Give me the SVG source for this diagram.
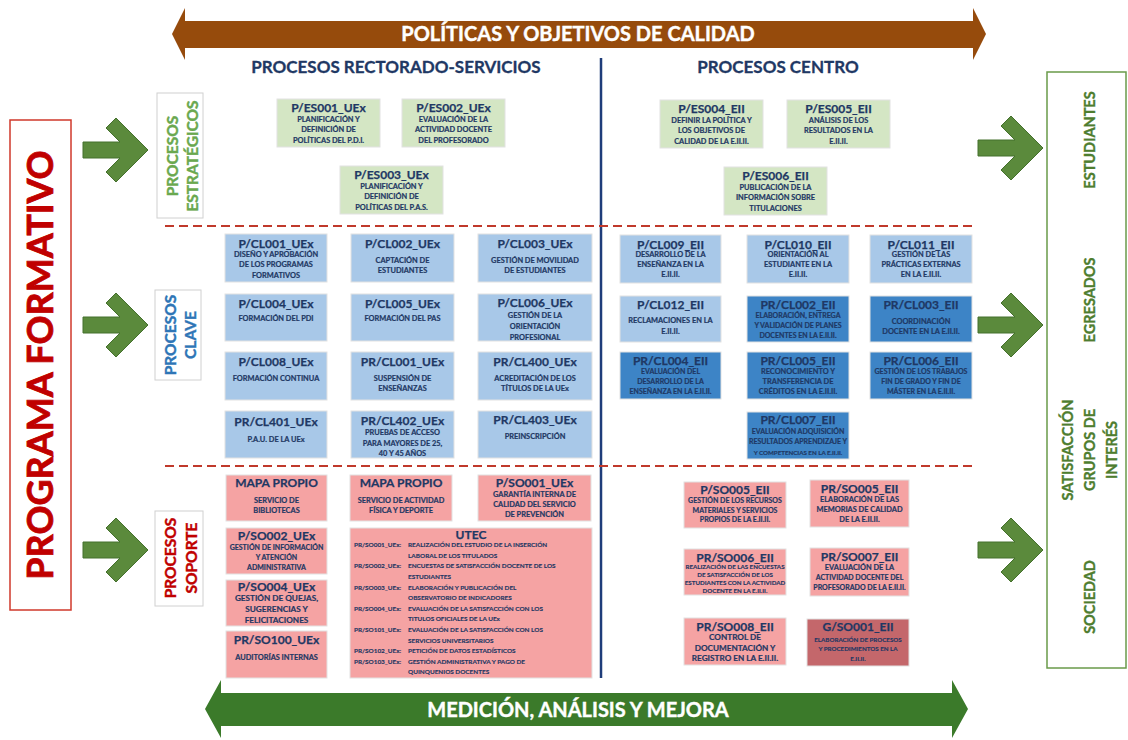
<svg xmlns="http://www.w3.org/2000/svg" width="1128" height="740" viewBox="0 0 1128 740">
<style>
text{font-family:Lato,"Open Sans","Liberation Sans",sans-serif;font-weight:700}
.t{font-size:12px;fill:#1f3864;stroke:#1f3864;stroke-width:0.25;text-anchor:middle}
.d{font-size:7.4px;fill:#1f3864;stroke:#1f3864;stroke-width:0.2;text-anchor:middle}
.d7{font-size:7px;fill:#1f3864;stroke:#1f3864;stroke-width:0.2;text-anchor:middle}
.d8{font-size:8.2px;fill:#1f3864;stroke:#1f3864;stroke-width:0.2;text-anchor:middle}
.d6{font-size:6.2px;fill:#1f3864;stroke:#1f3864;stroke-width:0.15;text-anchor:middle}
.u{font-size:6.4px;fill:#1f3864;stroke:#1f3864;stroke-width:0.15}
.gr{fill:#d4e6c4;stroke:#e2e2e2;stroke-width:1}
.lb{fill:#a8c8e8;stroke:#e2e2e2;stroke-width:1}
.db{fill:#3d84c6;stroke:#e2e2e2;stroke-width:1}
.pk{fill:#f5a3a3;stroke:#e2e2e2;stroke-width:1}
.dp{fill:#c4676b;stroke:#e2e2e2;stroke-width:1}
.hd{font-size:17px;fill:#1f3864;stroke:#1f3864;stroke-width:0.3;text-anchor:middle}
.side{fill:#fff;stroke:#d0d0d0;stroke-width:1}
.sl{font-size:15.5px;text-anchor:middle;stroke-width:0.4}
.rl{font-size:14.5px;fill:#4e7d2f;stroke:#4e7d2f;stroke-width:0.35;text-anchor:middle}
.bn{font-size:20px;fill:#fff;stroke:#fff;stroke-width:0.4;text-anchor:middle}
.dash{stroke:#c0392b;stroke-width:2;stroke-dasharray:9 5;fill:none}
</style>
<defs>
<polygon id="garrow" points="0,-8 37,-8 23,-22 33,-32 65,0 33,32 23,22 37,8 0,8" fill="#5b8a3c" stroke="#44702c" stroke-width="1"/>
</defs>

<g id="banner-top">
<polygon points="172,34 185,8 185,21 973,21 973,8 986,34 973,60 973,48 185,48 185,60" fill="#964b0c"/>
<text class="bn" x="578" y="41">POLÍTICAS Y OBJETIVOS DE CALIDAD</text>
</g>
<g id="banner-bottom">
<polygon points="205,709 221,680 221,693 952,693 952,680 968,709 952,738 952,726 221,726 221,738" fill="#3b7a2a"/>
<text class="bn" x="578" y="717">MEDICIÓN, ANÁLISIS Y MEJORA</text>
</g>

<g id="headers">
<text class="hd" x="396" y="73">PROCESOS RECTORADO-SERVICIOS</text>
<text class="hd" x="778" y="73">PROCESOS CENTRO</text>
<line x1="601" y1="58" x2="601" y2="678" stroke="#1f3d7a" stroke-width="2.5"/>
<line class="dash" x1="165" y1="226" x2="975" y2="226"/>
<line class="dash" x1="165" y1="466" x2="975" y2="466"/>
</g>

<g id="programa-formativo">
<rect x="10" y="120" width="61" height="490" fill="#fff" stroke="#d0392b" stroke-width="1.5"/>
<text transform="translate(53,365) rotate(-90)" font-size="36" fill="#c00000" stroke="#c00000" stroke-width="0.8" text-anchor="middle">PROGRAMA FORMATIVO</text>
</g>

<g id="label-estrategicos">
<rect class="side" x="157" y="93" width="46" height="125"/>
<text class="sl" fill="#6aa84f" stroke="#6aa84f" transform="translate(177.5,156) rotate(-90)">PROCESOS</text>
<text class="sl" fill="#6aa84f" stroke="#6aa84f" transform="translate(197.5,156) rotate(-90)">ESTRATÉGICOS</text>
</g>
<g id="label-clave">
<rect class="side" x="155" y="290" width="46" height="90"/>
<text class="sl" fill="#2e75b6" stroke="#2e75b6" transform="translate(175.5,335) rotate(-90)">PROCESOS</text>
<text class="sl" fill="#2e75b6" stroke="#2e75b6" transform="translate(195.5,335) rotate(-90)">CLAVE</text>
</g>
<g id="label-soporte">
<rect class="side" x="155" y="511" width="48" height="95"/>
<text class="sl" fill="#c00000" stroke="#c00000" transform="translate(175.5,558) rotate(-90)">PROCESOS</text>
<text class="sl" fill="#c00000" stroke="#c00000" transform="translate(196.5,558) rotate(-90)">SOPORTE</text>
</g>

<g id="grupos-interes">
<rect x="1047" y="72" width="79" height="596" fill="#fff" stroke="#6a9a4a" stroke-width="1.5"/>
<text class="rl" transform="translate(1095,140) rotate(-90)">ESTUDIANTES</text>
<text class="rl" transform="translate(1095,300) rotate(-90)">EGRESADOS</text>
<text class="rl" transform="translate(1073,450) rotate(-90)">SATISFACCIÓN</text>
<text class="rl" transform="translate(1095,450) rotate(-90)">GRUPOS DE</text>
<text class="rl" transform="translate(1117,450) rotate(-90)">INTERÉS</text>
<text class="rl" transform="translate(1095,597) rotate(-90)">SOCIEDAD</text>
</g>

<g id="connectors">
<use href="#garrow" x="83" y="150"/>
<use href="#garrow" x="83" y="325"/>
<use href="#garrow" x="83" y="550"/>
<use href="#garrow" x="978" y="148"/>
<use href="#garrow" x="978" y="325"/>
<use href="#garrow" x="978" y="550"/>
</g>

<!-- Strategic -->
<g id="P_ES001_UEx"><rect class="gr" x="277" y="99" width="103" height="48"/>
<text class="t" x="328.5" y="112">P/ES001_UEx</text>
<text class="d" x="328.5" y="121.5">PLANIFICACIÓN Y</text><text class="d" x="328.5" y="132">DEFINICIÓN DE</text><text class="d" x="328.5" y="142.5">POLÍTICAS DEL P.D.I.</text></g>
<g id="P_ES002_UEx"><rect class="gr" x="402" y="99" width="103" height="48"/>
<text class="t" x="453.5" y="112">P/ES002_UEx</text>
<text class="d" x="453.5" y="121.5">EVALUACIÓN DE LA</text><text class="d" x="453.5" y="132">ACTIVIDAD DOCENTE</text><text class="d" x="453.5" y="142.5">DEL PROFESORADO</text></g>
<g id="P_ES003_UEx"><rect class="gr" x="340" y="166" width="103" height="48"/>
<text class="t" x="391.5" y="179">P/ES003_UEx</text>
<text class="d" x="391.5" y="188.5">PLANIFICACIÓN Y</text><text class="d" x="391.5" y="199">DEFINICIÓN DE</text><text class="d" x="391.5" y="209.5">POLÍTICAS DEL P.A.S.</text></g>
<g id="P_ES004_EII"><rect class="gr" x="660" y="100" width="103" height="48"/>
<text class="t" x="711.5" y="113">P/ES004_EII</text>
<text class="d" x="711.5" y="122.5">DEFINIR LA POLÍTICA Y</text><text class="d" x="711.5" y="133">LOS OBJETIVOS DE</text><text class="d" x="711.5" y="143.5">CALIDAD DE LA E.II.II.</text></g>
<g id="P_ES005_EII"><rect class="gr" x="787" y="100" width="103" height="48"/>
<text class="t" x="838.5" y="113">P/ES005_EII</text>
<text class="d" x="838.5" y="122.5">ANÁLISIS DE LOS</text><text class="d" x="838.5" y="133">RESULTADOS EN LA</text><text class="d" x="838.5" y="143.5">E.II.II.</text></g>
<g id="P_ES006_EII"><rect class="gr" x="724" y="167" width="103" height="48"/>
<text class="t" x="775.5" y="180">P/ES006_EII</text>
<text class="d" x="775.5" y="189.5">PUBLICACIÓN DE LA</text><text class="d" x="775.5" y="200">INFORMACIÓN SOBRE</text><text class="d" x="775.5" y="210.5">TITULACIONES</text></g>

<!-- Clave left -->
<g id="P_CL001_UEx"><rect class="lb" x="225" y="234" width="102" height="48"/>
<text class="t" x="276" y="248">P/CL001_UEx</text>
<text class="d" x="276" y="256.5">DISEÑO Y APROBACIÓN</text><text class="d" x="276" y="267">DE LOS PROGRAMAS</text><text class="d" x="276" y="278">FORMATIVOS</text></g>
<g id="P_CL002_UEx"><rect class="lb" x="351" y="234" width="103" height="48"/>
<text class="t" x="402.5" y="248">P/CL002_UEx</text>
<text class="d" x="402.5" y="262.8">CAPTACIÓN DE</text><text class="d" x="402.5" y="272.8">ESTUDIANTES</text></g>
<g id="P_CL003_UEx"><rect class="lb" x="478" y="234" width="114" height="48"/>
<text class="t" x="535" y="248">P/CL003_UEx</text>
<text class="d" x="535" y="262.8">GESTIÓN DE MOVILIDAD</text><text class="d" x="535" y="272.8">DE ESTUDIANTES</text></g>
<g id="P_CL004_UEx"><rect class="lb" x="225" y="294" width="102" height="47"/>
<text class="t" x="276" y="308">P/CL004_UEx</text>
<text class="d" x="276" y="320.5">FORMACIÓN DEL PDI</text></g>
<g id="P_CL005_UEx"><rect class="lb" x="351" y="294" width="103" height="47"/>
<text class="t" x="402.5" y="308">P/CL005_UEx</text>
<text class="d" x="402.5" y="320.5">FORMACIÓN DEL PAS</text></g>
<g id="P_CL006_UEx"><rect class="lb" x="478" y="294" width="114" height="47"/>
<text class="t" x="535" y="307">P/CL006_UEx</text>
<text class="d" x="535" y="317.8">GESTIÓN DE LA</text><text class="d" x="535" y="328.8">ORIENTACIÓN</text><text class="d" x="535" y="339.5">PROFESIONAL</text></g>
<g id="P_CL008_UEx"><rect class="lb" x="225" y="352" width="102" height="48"/>
<text class="t" x="276" y="365.7">P/CL008_UEx</text>
<text class="d" x="276" y="380.5">FORMACIÓN CONTINUA</text></g>
<g id="PR_CL001_UEx"><rect class="lb" x="351" y="352" width="103" height="48"/>
<text class="t" x="402.5" y="365.7">PR/CL001_UEx</text>
<text class="d" x="402.5" y="380.8">SUSPENSIÓN DE</text><text class="d" x="402.5" y="390.8">ENSEÑANZAS</text></g>
<g id="PR_CL400_UEx"><rect class="lb" x="478" y="352" width="114" height="48"/>
<text class="t" x="535" y="365.7">PR/CL400_UEx</text>
<text class="d" x="535" y="380.8">ACREDITACIÓN DE LOS</text><text class="d" x="535" y="390.8">TÍTULOS DE LA UEx</text></g>
<g id="PR_CL401_UEx"><rect class="lb" x="225" y="411" width="102" height="47"/>
<text class="t" x="276" y="425.5">PR/CL401_UEx</text>
<text class="d" x="276" y="441.5">P.A.U. DE LA UEx</text></g>
<g id="PR_CL402_UEx"><rect class="lb" x="351" y="411" width="103" height="47"/>
<text class="t" x="402.5" y="425">PR/CL402_UEx</text>
<text class="d" x="402.5" y="434.8">PRUEBAS DE ACCESO</text><text class="d" x="402.5" y="445.8">PARA MAYORES DE 25,</text><text class="d" x="402.5" y="455.8">40 Y 45 AÑOS</text></g>
<g id="PR_CL403_UEx"><rect class="lb" x="478" y="411" width="114" height="47"/>
<text class="t" x="535" y="424">PR/CL403_UEx</text>
<text class="d" x="535" y="439.2">PREINSCRIPCIÓN</text></g>

<!-- Clave right -->
<g id="P_CL009_EII"><rect class="lb" x="620" y="235" width="101" height="48"/>
<text class="t" x="670.5" y="248.7">P/CL009_EII</text>
<text class="d" x="670.5" y="256.5">DESARROLLO DE LA</text><text class="d" x="670.5" y="266.5">ENSEÑANZA EN LA</text><text class="d" x="670.5" y="276.5">E.II.II.</text></g>
<g id="P_CL010_EII"><rect class="lb" x="747" y="235" width="102" height="48"/>
<text class="t" x="798" y="248.7">P/CL010_EII</text>
<text class="d" x="798" y="256.5">ORIENTACIÓN AL</text><text class="d" x="798" y="266.5">ESTUDIANTE EN LA</text><text class="d" x="798" y="276.5">E.II.II.</text></g>
<g id="P_CL011_EII"><rect class="lb" x="870" y="235" width="102" height="48"/>
<text class="t" x="921" y="248.7">P/CL011_EII</text>
<text class="d" x="921" y="256.5">GESTIÓN DE LAS</text><text class="d" x="921" y="266.5">PRÁCTICAS EXTERNAS</text><text class="d" x="921" y="276.5">EN LA E.II.II.</text></g>
<g id="P_CL012_EII"><rect class="lb" x="620" y="296" width="101" height="46"/>
<text class="t" x="670.5" y="308.5">P/CL012_EII</text>
<text class="d" x="670.5" y="323.2">RECLAMACIONES EN LA</text><text class="d" x="670.5" y="333.5">E.II.II.</text></g>
<g id="PR_CL002_EII"><rect class="db" x="747" y="296" width="102" height="46"/>
<text class="t" x="798" y="308.5">PR/CL002_EII</text>
<text class="d7" x="798" y="317.8">ELABORACIÓN, ENTREGA</text><text class="d7" x="798" y="327.8">Y VALIDACIÓN DE PLANES</text><text class="d7" x="798" y="337.8">DOCENTES EN LA E.II.II.</text></g>
<g id="PR_CL003_EII"><rect class="db" x="870" y="296" width="102" height="46"/>
<text class="t" x="921" y="308.5">PR/CL003_EII</text>
<text class="d" x="921" y="323.5">COORDINACIÓN</text><text class="d" x="921" y="334">DOCENTE EN LA E.II.II.</text></g>
<g id="PR_CL004_EII"><rect class="db" x="620" y="352" width="101" height="47"/>
<text class="t" x="670.5" y="364.5">PR/CL004_EII</text>
<text class="d7" x="670.5" y="373.5">EVALUACIÓN DEL</text><text class="d7" x="670.5" y="383.5">DESARROLLO DE LA</text><text class="d7" x="670.5" y="394">ENSEÑANZA EN LA E.II.II.</text></g>
<g id="PR_CL005_EII"><rect class="db" x="747" y="352" width="102" height="47"/>
<text class="t" x="798" y="364.5">PR/CL005_EII</text>
<text class="d" x="798" y="373.5">RECONOCIMIENTO Y</text><text class="d" x="798" y="383.5">TRANSFERENCIA DE</text><text class="d" x="798" y="394">CRÉDITOS EN LA E.II.II.</text></g>
<g id="PR_CL006_EII"><rect class="db" x="870" y="352" width="102" height="47"/>
<text class="t" x="921" y="364.5">PR/CL006_EII</text>
<text class="d7" x="921" y="373.5">GESTIÓN DE LOS TRABAJOS</text><text class="d7" x="921" y="383.5">FIN DE GRADO Y FIN DE</text><text class="d7" x="921" y="394">MÁSTER EN LA E.II.II.</text></g>
<g id="PR_CL007_EII"><rect class="db" x="747" y="412" width="102" height="47"/>
<text class="t" x="798" y="424">PR/CL007_EII</text>
<text class="d7" x="798" y="434.2">EVALUACIÓN ADQUISICIÓN</text><text class="d7" x="798" y="444.2">RESULTADOS APRENDIZAJE Y</text><text class="d6" x="798" y="454.8">Y COMPETENCIAS EN LA E.II.II.</text></g>

<!-- Soporte left -->
<g id="MAPA_PROPIO_BIB"><rect class="pk" x="226" y="475" width="101" height="46"/>
<text class="t" x="276.5" y="487">MAPA PROPIO</text>
<text class="d" x="276.5" y="502.8">SERVICIO DE</text><text class="d" x="276.5" y="512.8">BIBLIOTECAS</text></g>
<g id="MAPA_PROPIO_DEP"><rect class="pk" x="350" y="475" width="102" height="46"/>
<text class="t" x="401" y="487">MAPA PROPIO</text>
<text class="d" x="401" y="502.8">SERVICIO DE ACTIVIDAD</text><text class="d" x="401" y="512.8">FÍSICA Y DEPORTE</text></g>
<g id="P_SO001_UEx"><rect class="pk" x="478" y="475" width="113" height="46"/>
<text class="t" x="534.5" y="487">P/SO001_UEx</text>
<text class="d" x="534.5" y="496.5">GARANTÍA INTERNA DE</text><text class="d" x="534.5" y="506.5">CALIDAD DEL SERVICIO</text><text class="d" x="534.5" y="516.5">DE PREVENCIÓN</text></g>
<g id="P_SO002_UEx"><rect class="pk" x="226" y="528" width="101" height="46"/>
<text class="t" x="276.5" y="540.3">P/SO002_UEx</text>
<text class="d7" x="276.5" y="549.5">GESTIÓN DE INFORMACIÓN</text><text class="d7" x="276.5" y="559.5">Y ATENCIÓN</text><text class="d7" x="276.5" y="569.5">ADMINISTRATIVA</text></g>
<g id="P_SO004_UEx"><rect class="pk" x="226" y="580" width="101" height="46"/>
<text class="t" x="276.5" y="591">P/SO004_UEx</text>
<text class="d8" x="276.5" y="601">GESTIÓN DE QUEJAS,</text><text class="d8" x="276.5" y="611.5">SUGERENCIAS Y</text><text class="d8" x="276.5" y="622.5">FELICITACIONES</text></g>
<g id="PR_SO100_UEx"><rect class="pk" x="226" y="631" width="101" height="47"/>
<text class="t" x="276.5" y="644">PR/SO100_UEx</text>
<text class="d" x="276.5" y="659.5">AUDITORÍAS INTERNAS</text></g>
<g id="UTEC"><rect class="pk" x="350" y="528" width="242" height="150"/>
<text class="t" x="471" y="539">UTEC</text>
<text class="u" x="354" y="547.2">PR/SO001_UEx:</text><text class="u" x="408" y="547.2">REALIZACIÓN DEL ESTUDIO DE LA INSERCIÓN</text>
<text class="u" x="408" y="557.8">LABORAL DE LOS TITULADOS</text>
<text class="u" x="354" y="568.4">PR/SO002_UEx:</text><text class="u" x="408" y="568.4">ENCUESTAS DE SATISFACCIÓN DOCENTE DE LOS</text>
<text class="u" x="408" y="579">ESTUDIANTES</text>
<text class="u" x="354" y="589.6">PR/SO003_UEx:</text><text class="u" x="408" y="589.6">ELABORACIÓN Y PUBLICACIÓN DEL</text>
<text class="u" x="408" y="600.2">OBSERVATORIO DE INDICADORES</text>
<text class="u" x="354" y="610.8">PR/SO004_UEx:</text><text class="u" x="408" y="610.8">EVALUACIÓN DE LA SATISFACCIÓN CON LOS</text>
<text class="u" x="408" y="621.4">TITULOS OFICIALES DE LA UEx</text>
<text class="u" x="354" y="632">PR/SO101_UEx:</text><text class="u" x="408" y="632">EVALUACIÓN DE LA SATISFACCIÓN CON LOS</text>
<text class="u" x="408" y="642.6">SERVICIOS UNIVERSITARIOS</text>
<text class="u" x="354" y="653.2">PR/SO102_UEx:</text><text class="u" x="408" y="653.2">PETICIÓN DE DATOS ESTADÍSTICOS</text>
<text class="u" x="354" y="663.8">PR/SO103_UEx:</text><text class="u" x="408" y="663.8">GESTIÓN ADMINISTRATIVA Y PAGO DE</text>
<text class="u" x="408" y="674.4">QUINQUENIOS DOCENTES</text></g>

<!-- Soporte right -->
<g id="P_SO005_EII"><rect class="pk" x="684" y="482" width="102" height="46"/>
<text class="t" x="735" y="494">P/SO005_EII</text>
<text class="d7" x="735" y="503.2">GESTIÓN DE LOS RECURSOS</text><text class="d7" x="735" y="512.5">MATERIALES Y SERVICIOS</text><text class="d7" x="735" y="521.8">PROPIOS DE LA E.II.II.</text></g>
<g id="PR_SO005_EII"><rect class="pk" x="810" y="480" width="99" height="47"/>
<text class="t" x="859.5" y="493">PR/SO005_EII</text>
<text class="d" x="859.5" y="501.5">ELABORACIÓN DE LAS</text><text class="d" x="859.5" y="511.5">MEMORIAS DE CALIDAD</text><text class="d" x="859.5" y="522">DE LA E.II.II.</text></g>
<g id="PR_SO006_EII"><rect class="pk" x="684" y="549" width="102" height="46"/>
<text class="t" x="735" y="561.5">PR/SO006_EII</text>
<text class="d6" x="735" y="568.5">REALIZACIÓN DE LAS ENCUESTAS</text><text class="d6" x="735" y="576.8">DE SATISFACCIÓN DE LOS</text><text class="d6" x="735" y="585">ESTUDIANTES CON LA ACTIVIDAD</text><text class="d6" x="735" y="593">DOCENTE EN LA E.II.II.</text></g>
<g id="PR_SO007_EII"><rect class="pk" x="810" y="548" width="99" height="48"/>
<text class="t" x="859.5" y="561">PR/SO007_EII</text>
<text class="d" x="859.5" y="570.2">EVALUACIÓN DE LA</text><text class="d7" x="859.5" y="580.2">ACTIVIDAD DOCENTE DEL</text><text class="d7" x="859.5" y="589.8">PROFESORADO DE LA E.II.II.</text></g>
<g id="PR_SO008_EII"><rect class="pk" x="684" y="618" width="102" height="47"/>
<text class="t" x="735" y="630.7">PR/SO008_EII</text>
<text class="d8" x="735" y="640">CONTROL DE</text><text class="d8" x="735" y="650.5">DOCUMENTACIÓN Y</text><text class="d8" x="735" y="661">REGISTRO EN LA E.II.II.</text></g>
<g id="G_SO001_EII"><rect class="dp" x="807" y="619" width="102" height="47"/>
<text class="t" x="858" y="630.7">G/SO001_EII</text>
<text class="d6" x="858" y="642.3">ELABORACIÓN DE PROCESOS</text><text class="d6" x="858" y="651.3">Y PROCEDIMIENTOS EN LA</text><text class="d6" x="858" y="660.5">E.II.II.</text></g>
</svg>
